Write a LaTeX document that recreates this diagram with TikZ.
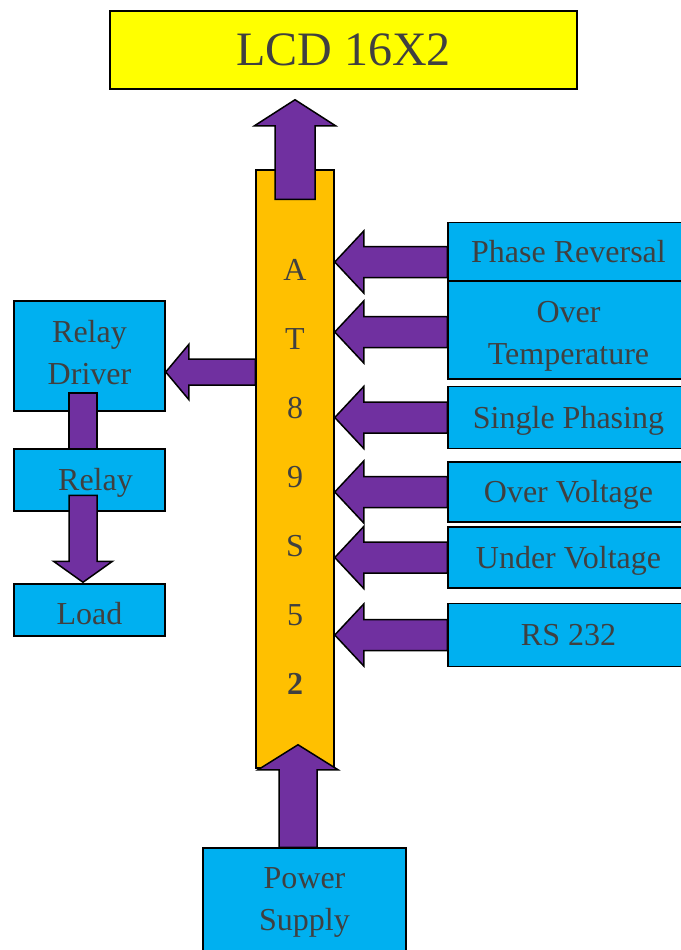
\documentclass[tikz,border=0pt]{standalone}
\usepackage{fontspec}
\setmainfont{Liberation Serif}
\usetikzlibrary{calc}
\definecolor{boxblue}{RGB}{0,176,240}
\definecolor{apurple}{RGB}{112,48,160}
\definecolor{mcuorange}{RGB}{255,192,0}
\definecolor{lcdyellow}{RGB}{255,255,0}
\definecolor{txtgray}{RGB}{64,64,64}
\tikzset{
  blk/.style={draw=black, line width=1.5pt, fill=boxblue, text=txtgray,
    font=\fontsize{32}{42}\selectfont, align=center, inner sep=0pt,
    text height=21pt, text depth=0pt},
  inblk/.style={blk, minimum width=281pt},
  fatshape/.style={draw=black, line width=1.5pt, fill=apurple, line join=miter},
  lbl/.style={text=txtgray, font=\fontsize{32}{42}\selectfont, inner sep=0pt}
}
% tail, tip, half shaft width, half head width, head length
\newcommand\fatarr[5]{%
  \draw[fatshape] ($(#1)!#3!90:(#2)$) -- ($(#2)!#5!(#1)!#3!90:(#2)$)
    -- ($(#2)!#5!(#1)!#4!90:(#2)$) -- (#2)
    -- ($(#2)!#5!(#1)!#4!-90:(#2)$) -- ($(#2)!#5!(#1)!#3!-90:(#2)$)
    -- ($(#1)!#3!-90:(#2)$) -- cycle;}
\newcommand\lsh{\hspace*{-40pt}}
\begin{document}
\begin{tikzpicture}[x=1pt,y=-1pt]
\useasboundingbox (0,0) rectangle (680,950);
% microcontroller column
\node[draw=black, line width=1.5pt, fill=mcuorange, minimum width=78pt,
  minimum height=598pt, inner sep=0pt] (col) at (295,469) {};
\foreach \c [count=\i] in {A,T,8,9,S,5,\textbf{2}}
  \node[lbl] (l\i) at (295,{270+69*(\i-1)}) {\c};
% LCD
\node[draw=black, line width=1.5pt, fill=lcdyellow, text=txtgray,
  font=\fontsize{48}{56}\selectfont, minimum width=467pt, minimum height=78pt,
  inner sep=0pt, text height=32pt, text depth=0pt] (lcd) at (343.5,50) {LCD 16X2};
% right inputs (boxes run past the right edge of the picture)
\node[inblk, minimum height=59pt] (pr) at (588.5,252) {\lsh Phase Reversal};
\node[inblk, minimum height=98pt, text width=281pt, text depth=36pt] (ot) at (588.5,330)
  {\lsh Over\\\lsh Temperature};
\node[inblk, minimum height=62pt] (sp) at (588.5,417.5) {\lsh Single Phasing};
\node[inblk, minimum height=60pt] (ov) at (588.5,492) {\lsh Over Voltage};
\node[inblk, minimum height=61pt] (uv) at (588.5,557.5) {\lsh Under Voltage};
\node[inblk, minimum height=63pt] (rs) at (588.5,635) {\lsh RS 232};
% left outputs
\node[blk, minimum width=151pt, minimum height=110pt, text width=151pt,
  text depth=48pt] (rd) at (89.5,356) {Relay\\Driver};
\node[blk, minimum width=151pt, minimum height=62pt] (rl) at (89.5,480) {\hspace*{12pt}Relay};
\node[blk, minimum width=151pt, minimum height=52pt, text height=29pt] (ld) at (89.5,610) {Load};
% power supply (runs past the bottom edge)
\node[blk, minimum width=203pt, minimum height=110pt, text width=203pt,
  text depth=50pt] (ps) at (304.5,903) {Power\\Supply};
% connector end points
\coordinate (lcdT) at ($(col.north)+(0,30)$);
\coordinate (lcdH) at ($(col.north |- lcd.south)+(0,10)$);
\coordinate (psT) at ($(ps.north)+(-6.5,0)$);
\coordinate (psH) at ($(col.south)+(3,-24)$);
\coordinate (prT) at ($(pr.west)+(0,10)$);
\coordinate (prH) at (col.east |- prT);
\coordinate (otT) at ($(ot.west)+(0,2)$);
\coordinate (otH) at (col.east |- otT);
\coordinate (spH) at (col.east |- sp.west);
\coordinate (ovH) at (col.east |- ov.west);
\coordinate (uvH) at (col.east |- uv.west);
\coordinate (rsH) at (col.east |- rs.west);
\coordinate (rdH) at ($(rd.east)+(0,16)$);
\coordinate (rdT) at (col.west |- rdH);
\coordinate (rlT) at ($(rl.north)+(-6.5,47)$);
\coordinate (rlH) at ($(ld.north)+(-6.5,-1)$);
% connectors
\fatarr{lcdT}{lcdH}{20pt}{40.5pt}{26pt}
\fatarr{psT}{psH}{19pt}{40pt}{25pt}
\fatarr{prT}{prH}{15.5pt}{31pt}{29pt}
\fatarr{otT}{otH}{15.5pt}{31pt}{29pt}
\fatarr{sp.west}{spH}{15.5pt}{31pt}{29pt}
\fatarr{ov.west}{ovH}{15.5pt}{31pt}{29pt}
\fatarr{uv.west}{uvH}{15.5pt}{31pt}{29pt}
\fatarr{rs.west}{rsH}{15.5pt}{31pt}{29pt}
\fatarr{rdT}{rdH}{13pt}{27.5pt}{23pt}
\draw[fatshape] ($(rd.south)+(-20.5,-19)$) rectangle ($(rl.north)+(7.5,0)$);
\fatarr{rlT}{rlH}{14pt}{29.5pt}{21pt}
\end{tikzpicture}
\end{document}
